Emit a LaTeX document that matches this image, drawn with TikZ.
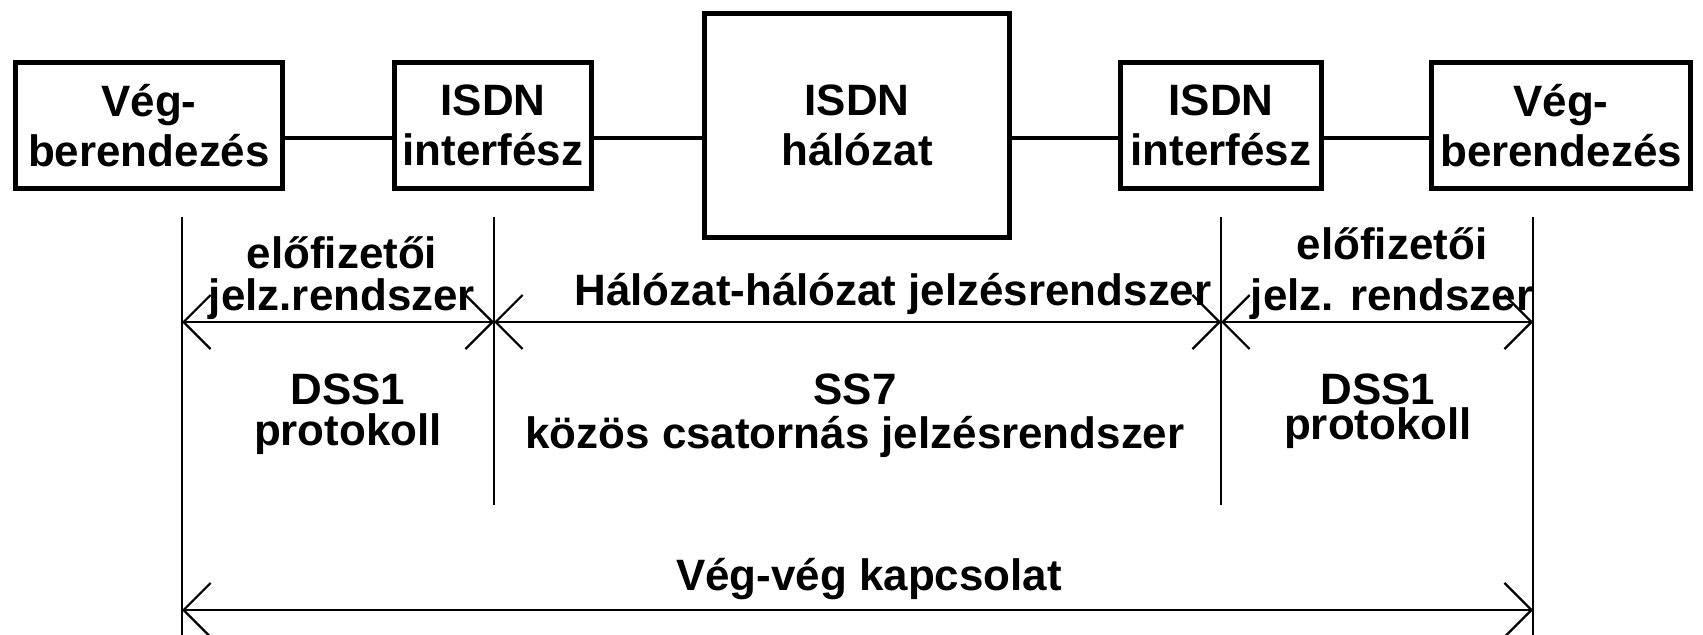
\documentclass[tikz,border=0pt]{standalone}
\usepackage{fontspec}
\setmainfont{Liberation Sans}
\usetikzlibrary{arrows.meta}

\begin{document}
\begin{tikzpicture}[
  x=0.02cm, y=-0.02cm,
  box/.style={rectangle, draw=black, line width=0.1cm, inner sep=0pt, minimum height=2.52cm, align=center, font=\bfseries\fontsize{25}{28.5}\selectfont},
  label/.style={align=center, anchor=base, inner sep=0pt, font=\bfseries\fontsize{25}{28.5}\selectfont},
  link/.style={line width=0.09cm},
  rule/.style={line width=1.3pt},
  dimarrow/.style={{Straight Barb[length=0.54cm, width=1.08cm]}-{Straight Barb[length=0.54cm, width=1.08cm]}, line width=1.3pt}
]
\useasboundingbox (0,0) rectangle (1703,635);

% --- BOXES ---
\node[box, minimum width=5.34cm] (veg1) at (149,125.5) {Vég-\\berendezés};
\node[box, minimum width=3.96cm] (if1) at (493,125.5) {ISDN\\interfész};
\node[box, minimum width=6.12cm, minimum height=4.48cm] (net) at (857,125.5) {ISDN\\hálózat};
\node[box, minimum width=4.02cm] (if2) at (1221,125.5) {ISDN\\interfész};
\node[box, minimum width=5.2cm] (veg2) at (1561,125.5) {Vég-\\berendezés};

% Connect the boxes
\foreach \a/\b in {veg1/if1, if1/net, net/if2, if2/veg2} {
  \draw[link] ([yshift=-0.25cm]\a.east) -- ([yshift=-0.25cm]\b.west);
}

% --- VERTICAL RULES ---
\foreach \n/\x in {1/182, 2/494, 3/1221, 4/1533} {
  \coordinate (top\n) at (\x,217);
  \coordinate (dim\n) at (\x,322);
}
\coordinate (bot1) at (182,640);
\coordinate (bot2) at (494,505);
\coordinate (bot3) at (1221,505);
\coordinate (bot4) at (1533,640);
\coordinate (end1) at (182,610);
\coordinate (end4) at (1533,610);

\foreach \n in {1,...,4} {
  \draw[rule] (top\n) -- (bot\n);
}

% Dimension arrows
\foreach \a/\b in {1/2, 2/3, 3/4} {
  \draw[dimarrow] (dim\a) -- (dim\b);
}
\draw[dimarrow] (end1) -- (end4);

% --- LABELS (anchored at the baseline of the last line) ---
\node[label] (elo1) at (342,310) {előfizetői\\[-5pt]jelz.rendszer};
\node[label] (hh) at (893,305) {Hálózat-hálózat jelzésrendszer};
\node[label] (elo2) at (1392,310) {előfizetői\\jelz. rendszer};

\node[label] (dss1) at (348,445) {DSS1\\[-5.7pt]protokoll};
\node[label] (ss7) at (855,448) {SS7\\[-4pt]közös csatornás jelzésrendszer};
\node[label] (dss2) at (1378,439) {DSS1\\[-9pt]protokoll};

\node[label] (vv) at (869,590) {Vég-vég kapcsolat};

\end{tikzpicture}
\end{document}
